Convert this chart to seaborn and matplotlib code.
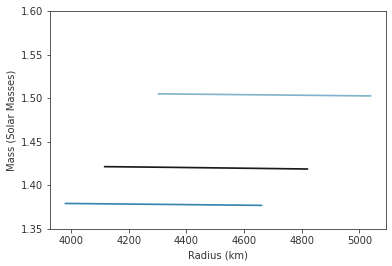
import matplotlib
matplotlib.use("Agg")
import matplotlib.pyplot as plt
import pandas as pd
import seaborn as sns

# Mass-radius tracks (radius in km, mass in solar masses)
radius_a = [3980, 4200, 4450, 4661]
mass_a = [1.3793, 1.3786, 1.3778, 1.3771]

radius_b = [4116, 4350, 4600, 4820]
mass_b = [1.4215, 1.4207, 1.4197, 1.4188]

radius_c = [4303, 4550, 4800, 5039]
mass_c = [1.5050, 1.5042, 1.5034, 1.5026]

colors = ["#3585ad", "#1a1a1a", "#82b3ca"]

df = pd.concat(
    [
        pd.DataFrame({"Radius": radius_a, "Mass": mass_a, "Track": "a"}),
        pd.DataFrame({"Radius": radius_b, "Mass": mass_b, "Track": "b"}),
        pd.DataFrame({"Radius": radius_c, "Mass": mass_c, "Track": "c"}),
    ]
)

sns.set_style("ticks")
plt.rcParams["font.family"] = ["DejaVu Sans"]

fig = plt.figure(figsize=(392 / 72, 266 / 72), dpi=72)
ax = fig.add_axes([50 / 392, 1 - 229 / 266, 336 / 392, 218 / 266])

sns.lineplot(
    data=df, x="Radius", y="Mass", hue="Track", palette=colors,
    linewidth=1.7, legend=False, ax=ax, sort=False,
)

ax.set_ylim(1.35, 1.60)
ax.set_yticks([1.35, 1.40, 1.45, 1.50, 1.55, 1.60])
ax.set_xticks([4000, 4200, 4400, 4600, 4800, 5000])
ax.set_xlabel("Radius (km)", fontsize=10, color="#333333")
ax.set_ylabel("Mass (Solar Masses)", fontsize=10, color="#333333")
ax.tick_params(labelsize=10, colors="#333333", width=0.8, length=3.5)
for s in ax.spines.values():
    s.set_visible(True)
    s.set_linewidth(0.8)
    s.set_color("#333333")

fig.savefig("out.png", dpi=72)
